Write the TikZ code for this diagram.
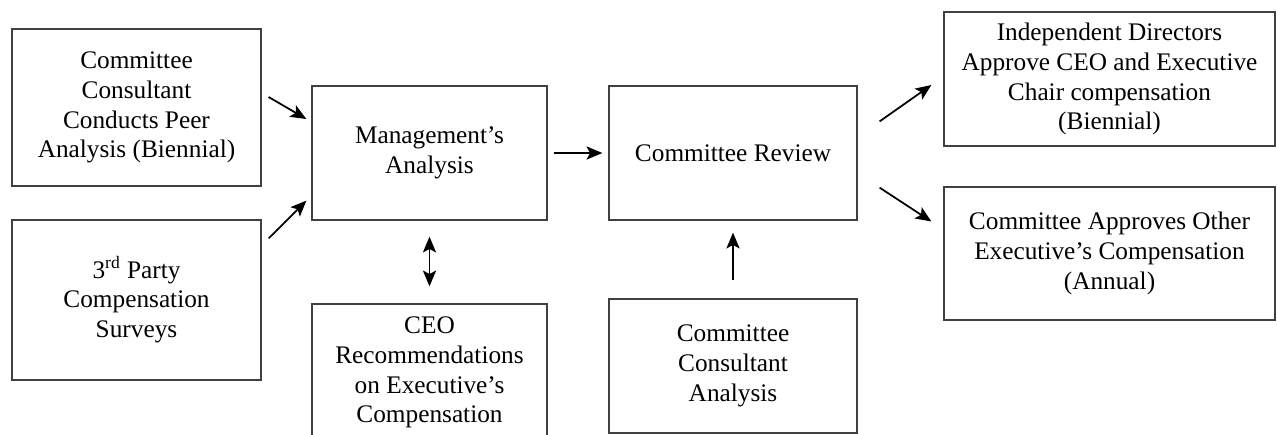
\documentclass[tikz,border=0pt]{standalone}
\usepackage{fontspec}
\setmainfont{Liberation Serif}
\usetikzlibrary{arrows.meta}
\begin{document}
\begin{tikzpicture}[x=0.02cm,y=-0.02cm,>={Stealth[length=9pt,width=7.5pt,inset=2pt]},
  box/.style={draw=black!75,line width=0.75pt,align=center,inner sep=0pt,
    font=\fontsize{14.4}{17}\selectfont}]
  \path[use as bounding box,clip] (0,0) rectangle (1277,434);
  \node[box,minimum width=4.98cm,minimum height=3.14cm] (peer) at (136.5,107.5)
    {Committee\\Consultant\\Conducts Peer\\Analysis (Biennial)};
  \node[box,minimum width=4.98cm,minimum height=3.2cm] (survey) at (136.5,300)
    {3\textsuperscript{rd} Party\\Compensation\\Surveys};
  \node[box,minimum width=4.7cm,minimum height=2.68cm] (mgmt) at (429.5,153)
    {Management’s\\Analysis};
  \node[box,minimum width=4.7cm,minimum height=2.74cm] (ceo) at (429.5,372.5)
    {CEO\\Recommendations\\on Executive’s\\Compensation};
  \node[box,minimum width=4.96cm,minimum height=2.68cm] (review) at (733,153)
    {Committee Review};
  \node[box,minimum width=4.96cm,minimum height=2.68cm] (consult) at (733,366)
    {Committee\\Consultant\\Analysis};
  \node[box,minimum width=6.62cm,minimum height=2.68cm] (indep) at (1109.5,79)
    {Independent Directors\\Approve CEO and Executive\\Chair compensation\\(Biennial)};
  \node[box,minimum width=6.62cm,minimum height=2.66cm] (other) at (1109.5,253.5)
    {Committee Approves Other\\Executive’s Compensation\\(Annual)};
  \draw[line width=1pt,->] ([shift={(7,-10.5)}]peer.east) -- ([shift={(-5,-34)}]mgmt.west);
  \draw[line width=1pt,->] ([shift={(7,19)}]survey.north east) -- ([shift={(-5,-20)}]mgmt.south west);
  \draw[line width=1pt,->] ([shift={(6,0)}]mgmt.east) -- ([shift={(-6,0)}]review.west);
  \draw[line width=1pt,<->] ([shift={(0,16)}]mgmt.south) -- ([shift={(0,-17)}]ceo.north);
  \draw[line width=1pt,->] ([shift={(0,-18)}]consult.north) -- ([shift={(0,12)}]review.south);
  \draw[line width=1pt,->] ([shift={(22,36)}]review.north east) -- ([shift={(-12,6)}]indep.west);
  \draw[line width=1pt,->] ([shift={(22,-33)}]review.south east) -- ([shift={(-12,-32)}]other.west);
\end{tikzpicture}
\end{document}
